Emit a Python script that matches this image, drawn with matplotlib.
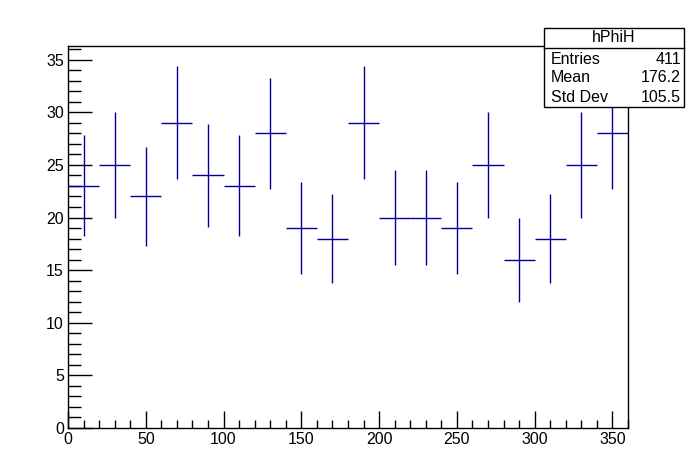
import numpy as np
import matplotlib.pyplot as plt
from matplotlib.patches import Rectangle
from matplotlib.lines import Line2D
from matplotlib.ticker import MultipleLocator

plt.rcParams['font.family'] = ['Liberation Sans', 'DejaVu Sans']

# histogram hPhiH, 18 bins of width 20 over 0..360
bin_edges = np.arange(0, 361, 20)
counts = [23, 25, 22, 29, 24, 23, 28, 19, 18, 29, 20, 20, 19, 25, 16, 18, 25, 28]
stat_names = ['Entries', 'Mean', 'Std Dev']
stat_values = ['411', '176.2', '105.5']
hist_name = 'hPhiH'

W, H = 698, 476
fig = plt.figure(figsize=(W / 100, H / 100), dpi=100)
ax = fig.add_axes([68 / W, 1 - 428 / H, (628 - 68) / W, (428 - 46) / H])

centers = 0.5 * (bin_edges[:-1] + bin_edges[1:])
widths = 0.5 * np.diff(bin_edges)
counts = np.array(counts)
ax.errorbar(centers, counts, xerr=widths, yerr=np.sqrt(counts), fmt='none',
            ecolor='#000099', elinewidth=1.0, capsize=0)

ax.set_xlim(0, 360)
ax.set_ylim(0, 36.3)
ax.xaxis.set_major_locator(MultipleLocator(50))
ax.xaxis.set_minor_locator(MultipleLocator(10))
ax.yaxis.set_major_locator(MultipleLocator(5))
ax.yaxis.set_minor_locator(MultipleLocator(1))
ax.tick_params(axis='x', which='major', direction='in', length=12, width=1, labelsize=11.5, pad=3)
ax.tick_params(axis='x', which='minor', direction='in', length=6, width=1)
ax.tick_params(axis='y', which='major', direction='in', length=17, width=1, labelsize=11.5, pad=3)
ax.tick_params(axis='y', which='minor', direction='in', length=9, width=1)
for s in ax.spines.values():
    s.set_linewidth(1)

# stats box
x0, y0, x1, y1 = 544, 28, 684, 107
fig.patches.append(Rectangle((x0 / W, 1 - y1 / H), (x1 - x0) / W, (y1 - y0) / H,
                             transform=fig.transFigure, facecolor='white',
                             edgecolor='black', lw=1, zorder=5))
fig.lines.append(Line2D([x0 / W, x1 / W], [1 - 48 / H, 1 - 48 / H],
                        transform=fig.transFigure, color='black', lw=1, zorder=6))
fig.text((x0 + x1) / 2 / W, 1 - 38 / H, hist_name, ha='center', va='center',
         fontsize=11.5, zorder=7)
for i, (n, v) in enumerate(zip(stat_names, stat_values)):
    yy = 1 - (59 + i * 19) / H
    fig.text(551 / W, yy, n, ha='left', va='center', fontsize=11.5, zorder=7)
    fig.text(681 / W, yy, v, ha='right', va='center', fontsize=11.5, zorder=7)

fig.savefig('out.png', dpi=100)
